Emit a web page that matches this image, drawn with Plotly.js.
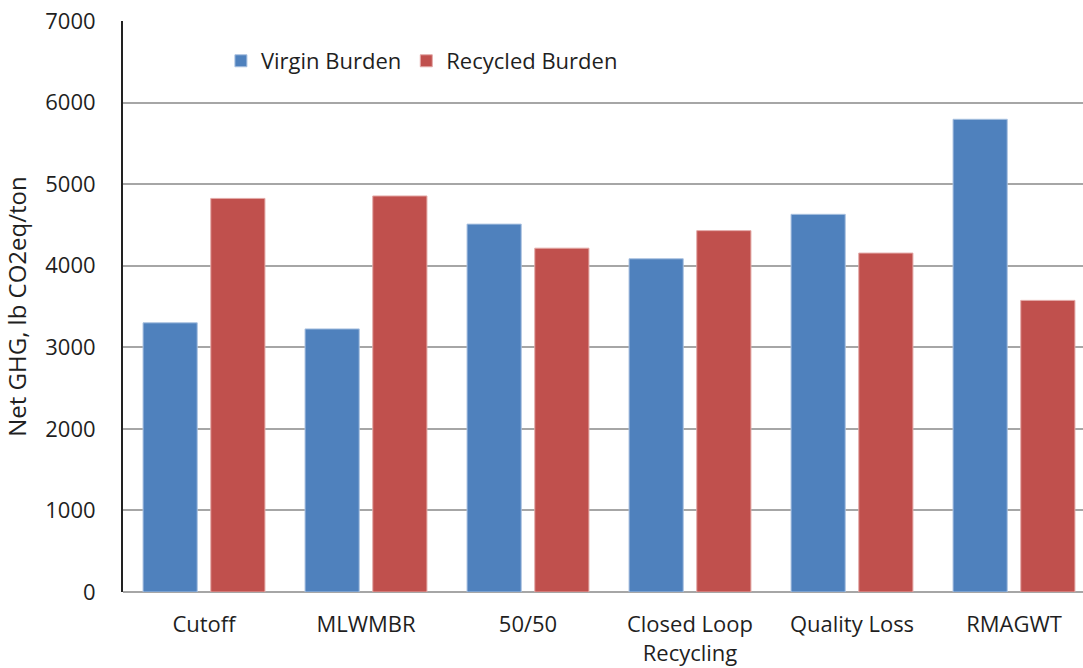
<!DOCTYPE html>
<html><head><meta charset="utf-8">
<script src="https://cdn.plot.ly/plotly-3.0.1.min.js"></script>
<style>html,body{margin:0;padding:0;background:#fff}#chart{width:1083px;height:668px}</style>
</head><body><div id="chart"></div>
<script>
const categories = ["Cutoff", "MLWMBR", "50/50", "Closed Loop<br>Recycling", "Quality Loss", "RMAGWT"];
const virginBurden = [3300, 3225, 4510, 4085, 4630, 5795];
const recycledBurden = [4825, 4855, 4215, 4430, 4155, 3575];
const yTicks = [0, 1000, 2000, 3000, 4000, 5000, 6000, 7000];

const FONT = "Open Sans, sans-serif";
const TXT = "#1f1f1f";
const data = [
  {type: "bar", name: "Virgin Burden", x: categories, y: virginBurden,
   marker: {color: "#4F81BD", line: {color: "#A9C1E0", width: 1}}},
  {type: "bar", name: "Recycled Burden", x: categories, y: recycledBurden,
   marker: {color: "#C0504D", line: {color: "#E3A9A7", width: 1}}}
];
const layout = {
  width: 1083, height: 668,
  margin: {l: 123, r: 0, t: 21, b: 76},
  paper_bgcolor: "#fff", plot_bgcolor: "#fff",
  font: {family: FONT, size: 22, color: TXT},
  barmode: "group", bargap: 0.164, bargroupgap: 0.2,
  showlegend: true,
  legend: {orientation: "h", x: 0.102, y: 0.93, xanchor: "left", yanchor: "middle",
           font: {family: FONT, size: 22, color: TXT}, bgcolor: "rgba(0,0,0,0)"},
  xaxis: {type: "category", range: [-0.5, 5.426], showgrid: false, zeroline: false,
          showline: false, ticks: "", ticklabelstandoff: 17,
          tickfont: {family: FONT, size: 22, color: TXT}},
  yaxis: {range: [0, 7000], tickvals: yTicks, showgrid: true, gridcolor: "#A6A6A6", gridwidth: 1.5,
          zeroline: true, zerolinecolor: "#A6A6A6", zerolinewidth: 1.5,
          showline: true, linecolor: "#222", linewidth: 2, ticks: "", ticklabelstandoff: 21,
          tickfont: {family: FONT, size: 22, color: TXT},
          title: {text: "Net GHG, lb CO2eq/ton", font: {family: FONT, size: 24, color: TXT}, standoff: 14}}
};
Plotly.newPlot("chart", data, layout, {displayModeBar: false});
</script></body></html>
